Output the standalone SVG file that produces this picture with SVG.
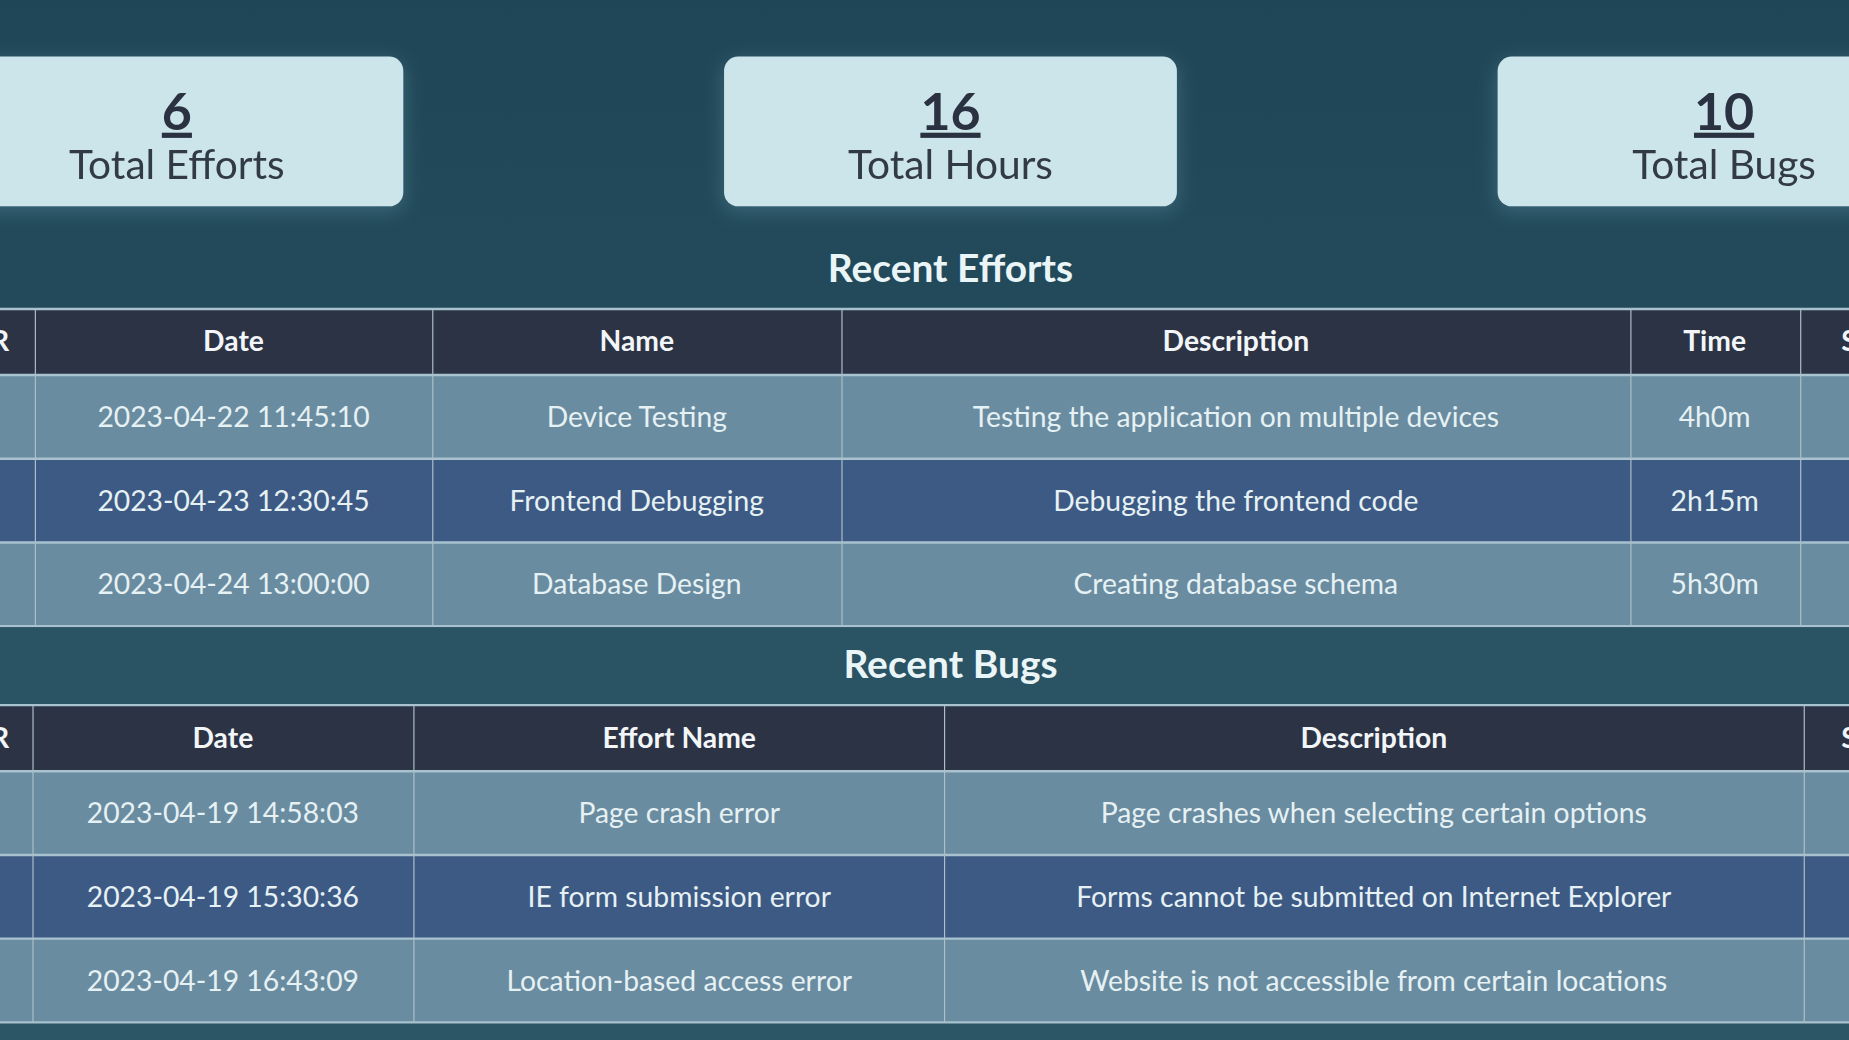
<svg xmlns="http://www.w3.org/2000/svg" width="1849" height="1040" viewBox="0 0 1849 1040">
<defs>
<linearGradient id="bg" x1="0" y1="0" x2="0" y2="1"><stop offset="0" stop-color="#1f4657"/><stop offset="1" stop-color="#2c5565"/></linearGradient>
<filter id="sh" x="-20%" y="-30%" width="140%" height="160%"><feDropShadow dx="0" dy="4" stdDeviation="8" flood-color="#6fa6b8" flood-opacity="0.35"/></filter>
</defs>
<style>
text{font-family:Lato,"Open Sans","Liberation Sans",sans-serif;text-anchor:middle}
.card{fill:#cce5ea}
.num{font-size:44px;font-weight:bold;fill:#2a3142;text-decoration:underline}
.lbl{font-size:34.5px;fill:#333a44}
.ttl{font-size:33px;font-weight:bold;fill:#eaf5f8}
.hd{fill:#2c3345}
.th{font-size:24px;font-weight:bold;fill:#f2f6f8}
.td{font-size:24px;fill:#e6f1f4}
.ra{fill:#6a8ca0}
.rb{fill:#3d5a84}
.vl{stroke:#aebfc8;stroke-width:1}
.hl{stroke:#a9c2d0;stroke-width:2}
</style>
<rect width="1849" height="1040" fill="url(#bg)"/>
<g transform="scale(1.17925)">
<g id="card-efforts" filter="url(#sh)"><rect class="card" x="-20" y="48" width="362" height="127" rx="12"/><text class="num" x="150" y="110">6</text><text class="lbl" x="150" y="152">Total Efforts</text></g>
<g id="card-hours" filter="url(#sh)"><rect class="card" x="614" y="48" width="384" height="127" rx="12"/><text class="num" x="806" y="110">16</text><text class="lbl" x="806" y="152">Total Hours</text></g>
<g id="card-bugs" filter="url(#sh)"><rect class="card" x="1270" y="48" width="330" height="127" rx="12"/><text class="num" x="1462" y="110">10</text><text class="lbl" x="1462" y="152">Total Bugs</text></g>

<g id="efforts-table">
<text class="ttl" x="806" y="239">Recent Efforts</text>
<rect class="hd" x="0" y="262" width="1568" height="56"/>
<rect class="ra" x="0" y="318" width="1568" height="71"/>
<rect class="rb" x="0" y="389" width="1568" height="71"/>
<rect class="ra" x="0" y="460" width="1568" height="71"/>
<line class="hl" x1="0" y1="262" x2="1568" y2="262"/>
<line class="hl" x1="0" y1="318" x2="1568" y2="318"/>
<line class="hl" x1="0" y1="389" x2="1568" y2="389"/>
<line class="hl" x1="0" y1="460" x2="1568" y2="460"/>
<line class="hl" x1="0" y1="531" x2="1568" y2="531"/>
<g class="vl"><line x1="30" y1="262" x2="30" y2="531"/><line x1="367" y1="262" x2="367" y2="531"/><line x1="714" y1="262" x2="714" y2="531"/><line x1="1383" y1="262" x2="1383" y2="531"/><line x1="1527" y1="262" x2="1527" y2="531"/></g>
<text class="th" x="0" y="298">R</text><text class="th" x="198" y="298">Date</text><text class="th" x="540" y="298">Name</text><text class="th" x="1048" y="298">Description</text><text class="th" x="1454" y="298">Time</text><text class="th" x="1568" y="298">S</text>
<text class="td" x="198" y="362">2023-04-22 11:45:10</text><text class="td" x="540" y="362">Device Testing</text><text class="td" x="1048" y="362">Testing the application on multiple devices</text><text class="td" x="1454" y="362">4h0m</text>
<text class="td" x="198" y="433">2023-04-23 12:30:45</text><text class="td" x="540" y="433">Frontend Debugging</text><text class="td" x="1048" y="433">Debugging the frontend code</text><text class="td" x="1454" y="433">2h15m</text>
<text class="td" x="198" y="504">2023-04-24 13:00:00</text><text class="td" x="540" y="504">Database Design</text><text class="td" x="1048" y="504">Creating database schema</text><text class="td" x="1454" y="504">5h30m</text>
</g>

<g id="bugs-table">
<rect x="0" y="532" width="1568" height="66" fill="#2a5364"/>
<text class="ttl" x="806" y="575">Recent Bugs</text>
<rect class="hd" x="0" y="598" width="1568" height="56"/>
<rect class="ra" x="0" y="654" width="1568" height="71"/>
<rect class="rb" x="0" y="725" width="1568" height="71"/>
<rect class="ra" x="0" y="796" width="1568" height="71"/>
<line class="hl" x1="0" y1="598" x2="1568" y2="598"/>
<line class="hl" x1="0" y1="654" x2="1568" y2="654"/>
<line class="hl" x1="0" y1="725" x2="1568" y2="725"/>
<line class="hl" x1="0" y1="796" x2="1568" y2="796"/>
<line class="hl" x1="0" y1="867" x2="1568" y2="867"/>
<g class="vl"><line x1="28" y1="598" x2="28" y2="867"/><line x1="351" y1="598" x2="351" y2="867"/><line x1="801" y1="598" x2="801" y2="867"/><line x1="1530" y1="598" x2="1530" y2="867"/></g>
<text class="th" x="0" y="634">R</text><text class="th" x="189" y="634">Date</text><text class="th" x="576" y="634">Effort Name</text><text class="th" x="1165" y="634">Description</text><text class="th" x="1568" y="634">S</text>
<text class="td" x="189" y="698">2023-04-19 14:58:03</text><text class="td" x="576" y="698">Page crash error</text><text class="td" x="1165" y="698">Page crashes when selecting certain options</text>
<text class="td" x="189" y="769">2023-04-19 15:30:36</text><text class="td" x="576" y="769">IE form submission error</text><text class="td" x="1165" y="769">Forms cannot be submitted on Internet Explorer</text>
<text class="td" x="189" y="840">2023-04-19 16:43:09</text><text class="td" x="576" y="840">Location-based access error</text><text class="td" x="1165" y="840">Website is not accessible from certain locations</text>
</g>
</g>
</svg>
